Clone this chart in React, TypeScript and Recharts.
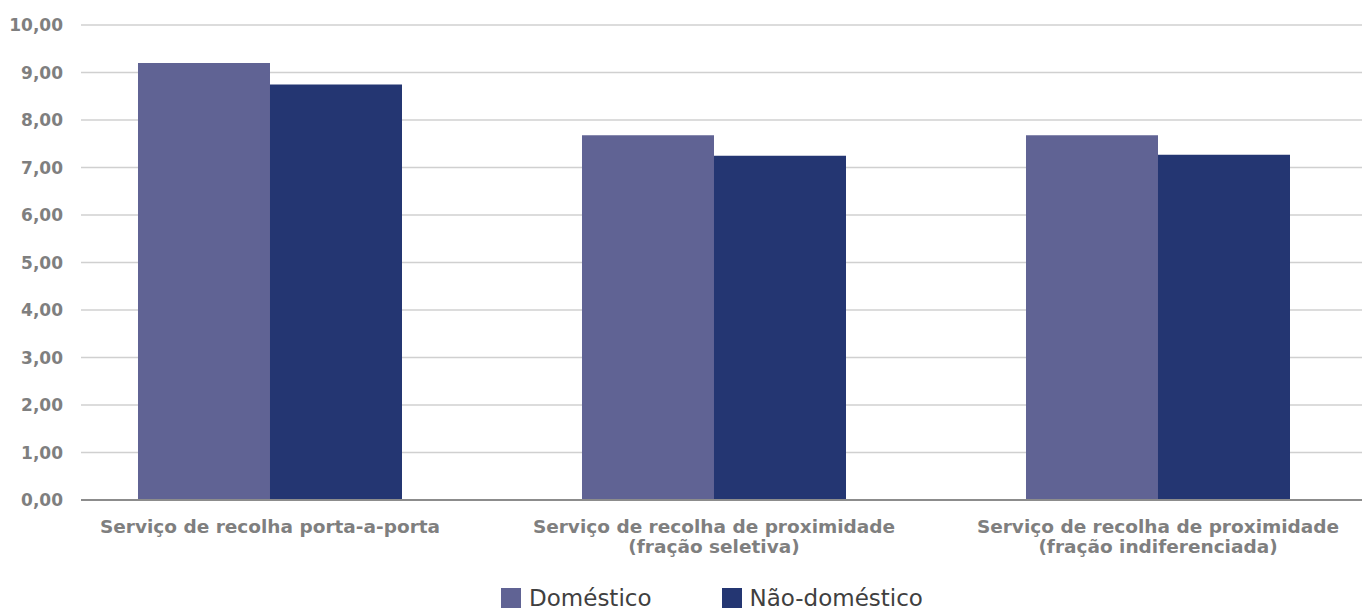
import React from 'react';
import { BarChart, Bar, XAxis, YAxis, CartesianGrid, Legend } from 'recharts';

const categories = [
  'Serviço de recolha porta-a-porta',
  'Serviço de recolha de proximidade\n(fração seletiva)',
  'Serviço de recolha de proximidade\n(fração indiferenciada)',
];
const domestico = [9.2, 7.68, 7.68];
const naoDomestico = [8.75, 7.25, 7.27];
const yTicks = [0, 1, 2, 3, 4, 5, 6, 7, 8, 9, 10];
const seriesNames = ['Doméstico', 'Não-doméstico'];

const data = categories.map((name, i) => ({
  name,
  domestico: domestico[i],
  naoDomestico: naoDomestico[i],
}));

const FONT = '"DejaVu Sans", sans-serif';
const LABEL_GREY = '#7f7f7f';

const formatValue = (v: number) => v.toFixed(2).replace('.', ',');

// category labels can wrap onto a second line
const CategoryTick = (props: any) => {
  const { x, y, payload } = props;
  const lines = String(payload.value).split('\n');
  return (
    <text
      x={x}
      y={y}
      textAnchor="middle"
      fill={LABEL_GREY}
      fontFamily={FONT}
      fontWeight={700}
      fontSize={18.5}
    >
      {lines.map((line, i) => (
        <tspan key={i} x={x} dy={i === 0 ? 25 : 20}>
          {line}
        </tspan>
      ))}
    </text>
  );
};

const LegendContent = (props: any) => {
  const { payload } = props;
  return (
    <div
      style={{
        display: 'flex',
        justifyContent: 'center',
        alignItems: 'center',
        height: 24,
        gap: 70,
        paddingLeft: 62,
        fontFamily: FONT,
        fontSize: 23,
        lineHeight: '24px',
        color: '#404040',
      }}
    >
      {(payload || []).map((item: any) => (
        <div key={item.value} style={{ display: 'flex', alignItems: 'center' }}>
          <span
            style={{
              display: 'inline-block',
              width: 20,
              height: 20,
              background: item.color,
              marginRight: 8,
            }}
          />
          <span>{item.value}</span>
        </div>
      ))}
    </div>
  );
};

export default function App() {
  return (
    <div style={{ position: 'absolute', left: 0, top: 0, width: 1362, height: 612, background: '#fff', overflow: 'hidden' }}>
      <BarChart
        width={1362}
        height={612}
        data={data}
        margin={{ top: 25, right: 0, left: 0, bottom: 0 }}
        barCategoryGap="20.27%"
        barGap={0}
      >
        <CartesianGrid vertical={false} stroke="#d0d0d0" strokeWidth={1.5} />
        <XAxis
          dataKey="name"
          interval={0}
          height={86}
          padding={{ left: -33, right: -18 }}
          tickLine={false}
          axisLine={{ stroke: '#8c8c8c', strokeWidth: 2 }}
          tick={<CategoryTick />}
        />
        <YAxis
          width={81}
          domain={[0, 10]}
          ticks={yTicks}
          tickFormatter={formatValue}
          tickLine={false}
          axisLine={false}
          tickSize={0}
          tickMargin={18}
          tick={{ fill: LABEL_GREY, fontFamily: FONT, fontWeight: 700, fontSize: 17 }}
        />
        <Legend
          verticalAlign="bottom"
          height={26}
          wrapperStyle={{ bottom: 0 }}
          content={<LegendContent />}
        />
        <Bar dataKey="domestico" name={seriesNames[0]} fill="#606394" isAnimationActive={false} />
        <Bar dataKey="naoDomestico" name={seriesNames[1]} fill="#243672" isAnimationActive={false} />
      </BarChart>
    </div>
  );
}
